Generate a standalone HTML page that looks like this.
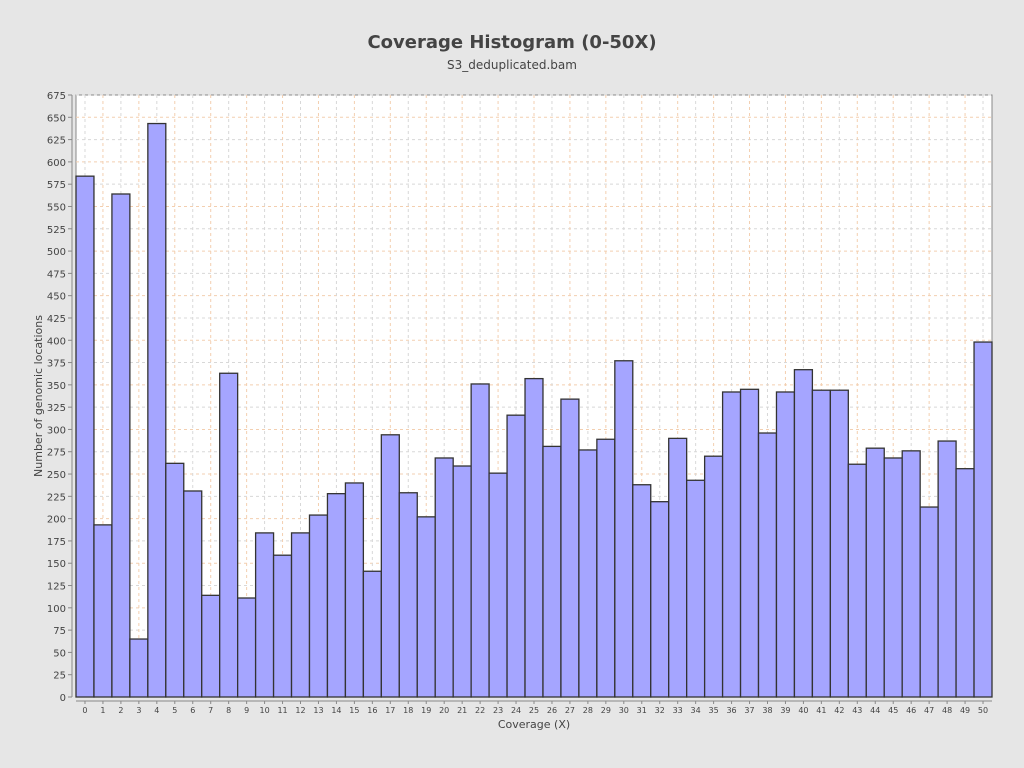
<!DOCTYPE html>
<html><head><meta charset="utf-8"><style>
body{margin:0;background:#e6e6e6;font-family:"DejaVu Sans","Liberation Sans",sans-serif;}
svg{display:block}
</style></head><body>
<svg id="chart" width="1024" height="768" xmlns="http://www.w3.org/2000/svg">
<rect width="1024" height="768" fill="#e6e6e6"/>
<text x="512" y="48" text-anchor="middle" font-size="18" font-weight="bold" fill="#444">Coverage Histogram (0-50X)</text>
<text x="512" y="69" text-anchor="middle" font-size="12" fill="#444">S3_deduplicated.bam</text>
<rect x="76" y="95" width="916" height="602" fill="#fff" stroke="#888"/>
<g id="grid"></g><g id="bars"></g><g id="axes"></g>
<text x="534" y="728" text-anchor="middle" font-size="11" fill="#444">Coverage (X)</text>
<text transform="translate(42,396) rotate(-90)" text-anchor="middle" font-size="11" fill="#444">Number of genomic locations</text>
</svg>
<script>
const categories=[];for(let i=0;i<=50;i++)categories.push(String(i));
const counts=[584,193,564,65,643,262,231,114,363,111,184,159,184,204,228,240,141,294,229,202,268,259,351,251,316,357,281,334,277,289,377,238,219,290,243,270,342,345,296,342,367,344,344,261,279,268,276,213,287,256,398];
const yTicks=[];for(let v=0;v<=675;v+=25)yTicks.push(v);
const NS="http://www.w3.org/2000/svg";
const X0=76,X1=992,Y0=697,Y1=95,YMAX=675;
const bw=(X1-X0)/categories.length;
const xs=i=>X0+i*bw;
const ys=v=>Y0-(v/YMAX)*(Y0-Y1);
function mk(t,a,p){const e=document.createElementNS(NS,t);for(const k in a)e.setAttribute(k,a[k]);p.appendChild(e);return e;}
const grid=document.getElementById('grid'),bars=document.getElementById('bars'),axes=document.getElementById('axes');
yTicks.forEach((v,i)=>{
 const l=mk('line',{x1:X0,x2:X1,y1:ys(v),y2:ys(v),stroke:i%2?'#d8d8d8':'#f3cfb0','stroke-dasharray':'3,3','stroke-width':1},grid);
 
 
 const t=mk('line',{x1:68,x2:72,y1:ys(v),y2:ys(v),stroke:'#888'},axes);
 
 
 const tx=mk('text',{x:66,y:ys(v)+4,'text-anchor':'end','font-size':10,fill:'#444'},axes);
 tx.textContent=v;
 
 
});
categories.forEach((c,i)=>{
 const cx=xs(i)+bw/2;
 const g=mk('line',{x1:cx,x2:cx,y1:Y1,y2:Y0,stroke:i%2?'#f3cfb0':'#d8d8d8','stroke-dasharray':'3,3'},grid);
 
 
 const r=mk('rect',{x:xs(i),y:ys(counts[i]),width:bw,height:Y0-ys(counts[i]),fill:'#a5a5ff',stroke:'#333','stroke-width':1.3},bars);
 
 
 const t=mk('line',{x1:cx,x2:cx,y1:701,y2:704,stroke:'#888'},axes);
 
 
 const tx=mk('text',{x:cx,y:713,'text-anchor':'middle','font-size':8,fill:'#444'},axes);
 tx.textContent=c;
 
 
});
const ya=mk('line',{x1:72,x2:72,y1:Y1,y2:Y0,stroke:'#888'},axes);


const xa=mk('line',{x1:X0,x2:X1,y1:701,y2:701,stroke:'#888'},axes);


</script>
</body></html>
